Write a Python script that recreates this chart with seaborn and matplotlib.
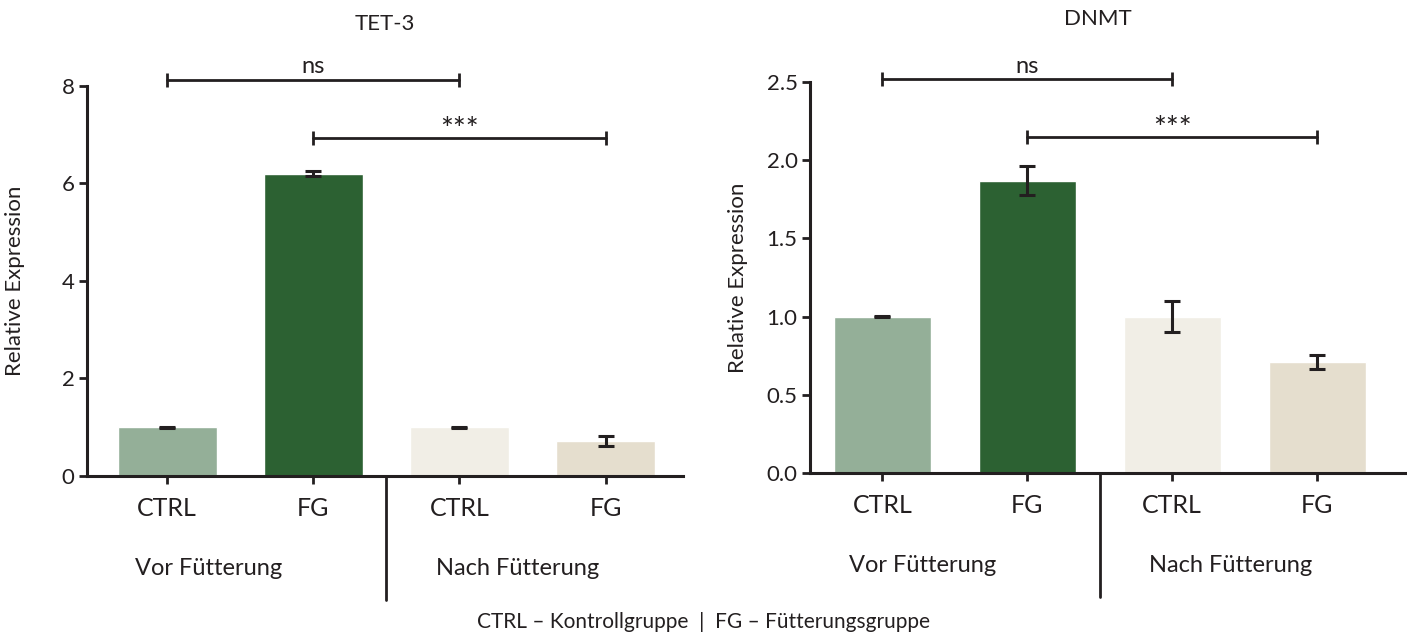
import pandas as pd
import matplotlib.pyplot as plt
import matplotlib.transforms as mtransforms
import seaborn as sns

# --- data ---
conditions = ["CTRL", "FG", "CTRL", "FG"]
keys = ["vor_ctrl", "vor_fg", "nach_ctrl", "nach_fg"]
groups = ["Vor Fütterung", "Nach Fütterung"]
bar_colors = ["#94AF98", "#2C6132", "#F1EEE6", "#E5DECE"]

tet3_values = [1.0, 6.2, 1.0, 0.72]
tet3_errors = [0.01, 0.05, 0.01, 0.11]
tet3_ticks = [0, 2, 4, 6, 8]
tet3_tick_labels = ["0", "2", "4", "6", "8"]
tet3_sig = [(0, 2, 8.12, "ns"), (1, 3, 6.93, "***")]

dnmt_values = [1.0, 1.87, 1.0, 0.71]
dnmt_errors = [0.005, 0.09, 0.1, 0.045]
dnmt_ticks = [0.0, 0.5, 1.0, 1.5, 2.0, 2.5]
dnmt_tick_labels = ["0.0", "0.5", "1.0", "1.5", "2.0", "2.5"]
dnmt_sig = [(0, 2, 2.517, "ns"), (1, 3, 2.146, "***")]

INK = "#231F20"

sns.set_theme(style="ticks")
plt.rcParams.update({
    'font.family': ['Lato', 'DejaVu Sans'],
    'text.color': INK,
    'axes.labelcolor': INK,
    'xtick.color': INK,
    'ytick.color': INK,
    'axes.edgecolor': INK,
})


def draw_panel(ax, title, values, errors, ticks, tick_labels, sig, xlim, title_x, bar_w):
    df = pd.DataFrame({'key': keys, 'value': values, 'err': errors})
    sns.barplot(data=df, x='key', y='value', hue='key', palette=bar_colors,
                order=keys, hue_order=keys, legend=False, errorbar=None,
                width=bar_w, saturation=1, ax=ax)
    ax.errorbar(range(len(keys)), df['value'], yerr=df['err'], fmt='none',
                ecolor=INK, elinewidth=2.2, capsize=5.5, capthick=2.2, zorder=3)

    ax.set_ylim(ticks[0], ticks[-1])
    ax.set_xlim(*xlim)
    ax.set_yticks(ticks)
    ax.set_yticklabels(tick_labels)
    ax.set_xticks(range(len(keys)))
    ax.set_xticklabels(conditions)
    ax.tick_params(axis='both', width=2, length=6, labelsize=16, pad=3)
    ax.tick_params(axis='x', labelsize=18, pad=9)
    for side in ['left', 'bottom']:
        ax.spines[side].set_linewidth(2.2)
    sns.despine(ax=ax)
    ax.set_xlabel("")
    ax.set_ylabel("Relative Expression", fontsize=16)
    ax.yaxis.set_label_coords(-0.104, 0.5)

    ax.text(title_x, 1.16, title, transform=ax.transAxes, ha='center', va='center', fontsize=16)

    # group separator and group labels
    trans = mtransforms.blended_transform_factory(ax.transData, ax.transAxes)
    ax.plot([1.5, 1.5], [0, -0.318], transform=trans, color=INK, lw=2, clip_on=False)
    ax.text(0.28, -0.236, groups[0], transform=trans, ha='center', va='center', fontsize=17)
    ax.text(2.4, -0.236, groups[1], transform=trans, ha='center', va='center', fontsize=17)

    # significance brackets
    for i0, i1, yv, label in sig:
        ax.plot([i0, i1], [yv, yv], color=INK, lw=2, clip_on=False, zorder=4)
        ax.plot([i0, i1], [yv, yv], ls='none', marker='|', markersize=10,
                markeredgewidth=2, color=INK, clip_on=False, zorder=4)
        size = 22 if label.startswith("*") else 17
        off = -4 if label.startswith("*") else 2
        ax.annotate(label, xy=((i0 + i1) / 2, yv), xytext=(0, off), textcoords='offset points',
                    ha='center', va='bottom', fontsize=size, annotation_clip=False)


fig = plt.figure(figsize=(14.07, 6.36), dpi=100)
ax1 = fig.add_axes([0.0618, 0.2516, 0.4236, 0.6132])
ax2 = fig.add_axes([0.5757, 0.2563, 0.4243, 0.6148])

draw_panel(ax1, "TET-3", tet3_values, tet3_errors, tet3_ticks, tet3_tick_labels,
           tet3_sig, (-0.55, 3.53), 0.5, 0.68)
draw_panel(ax2, "DNMT", dnmt_values, dnmt_errors, dnmt_ticks, dnmt_tick_labels,
           dnmt_sig, (-0.5, 3.62), 0.482, 0.67)

fig.text(0.4997, 0.022, "CTRL – Kontrollgruppe  |  FG – Fütterungsgruppe",
         ha='center', va='center', fontsize=15)

fig.savefig("out.png", dpi=100)
plt.close(fig)
